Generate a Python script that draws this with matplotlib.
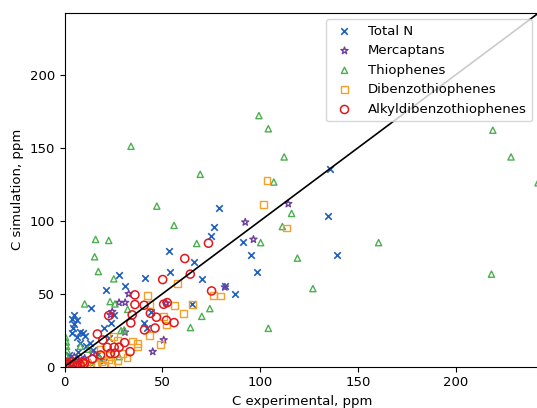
import numpy as np
import matplotlib.pyplot as plt

plt.rcParams['font.size'] = 9.5

# experimental vs simulated concentrations, ppm
total_n_exp = [135.9, 78.9, 134.5, 76.1, 74.9, 53.4, 91.2, 95.1, 139.4, 66.1, 98.1, 53.8, 27.8, 41.1, 70.1, 30.9,
               21.1, 81.9, 87.2, 13.4, 4.9, 25.3, 3.7, 23.6, 40.4, 42.2, 65.2, 44.0, 6.3, 4.9, 4.0, 9.5, 7.6, 6.3,
               10.2, 7.9, 12.8, 14.6, 6.7, 19.9, 22.5, 3.5, 11.0, 2.0, 1.0, 17.0, 3.0, 8.0]
total_n_sim = [135.4, 108.9, 103.0, 95.9, 89.2, 79.6, 85.3, 76.6, 76.6, 71.6, 64.7, 65.0, 62.9, 61.1, 60.2, 55.6,
               52.4, 55.6, 49.9, 40.5, 35.5, 35.5, 32.5, 30.2, 29.7, 26.3, 42.8, 37.3, 32.0, 29.1, 26.4, 23.3, 24.0, 20.6,
               21.1, 16.1, 16.1, 11.5, 10.3, 26.3, 19.4, 22.9, 14.0, 8.0, 4.0, 9.0, 2.0, 5.0]

merc_exp = [114.3, 92.3, 96.5, 81.9, 32.7, 27.8, 30.9, 24.3, 23.4, 30.8, 50.6, 45.0, 51.9, 4.9, 10.2, 14.2, 1.5, 7.0, 20.0]
merc_sim = [111.6, 99.0, 87.2, 54.5, 49.9, 43.9, 43.9, 37.7, 35.5, 23.6, 18.3, 10.3, 43.5, 6.9, 5.7, 9.2, 3.0, 3.0, 4.0]

thio_exp = [33.9, 99.3, 104.1, 218.9, 228.2, 242.0, 112.2, 69.3, 106.9, 47.1, 116.0, 111.3, 55.9, 100.2, 67.5, 160.5,
            15.8, 22.5, 15.3, 119.0, 17.2, 218.2, 25.1, 126.9, 10.2, 23.2, 25.7, 32.2, 74.2, 70.1, 64.3, 104.1,
            28.8, 30.4, 27.8, 0.5, 0.8, 1.0, 1.2, 0.5, 2.0, 5.0, 12.0, 18.0, 13.0, 8.0]
thio_sim = [151.0, 172.0, 163.0, 162.0, 143.7, 126.0, 143.7, 131.8, 126.5, 110.0, 105.0, 96.0, 96.8, 85.0, 84.4, 85.0,
            87.2, 86.5, 75.3, 74.4, 65.2, 63.4, 60.2, 53.5, 43.0, 44.6, 43.0, 39.3, 39.8, 34.5, 26.8, 26.3,
            24.7, 25.2, 6.9, 20.0, 17.0, 14.0, 11.0, 8.0, 5.0, 3.0, 12.0, 6.0, 3.0, 14.0]

dbt_exp = [103.4, 101.8, 113.6, 57.8, 42.2, 75.9, 79.8, 56.3, 60.8, 65.2, 43.6, 50.6, 52.0, 48.9, 43.4, 34.8, 37.4,
           37.3, 31.8, 26.9, 25.1, 18.1, 22.5, 27.1, 19.0, 16.0, 13.0, 29.5, 23.0, 20.0, 9.0, 5.0, 24.0, 11.0]
dbt_sim = [127.4, 111.0, 95.0, 57.0, 49.0, 49.0, 48.5, 41.9, 36.4, 42.8, 42.8, 34.5, 28.6, 15.3, 21.5, 17.6, 16.0,
           13.5, 6.2, 18.3, 20.6, 12.1, 4.6, 4.3, 3.4, 1.5, 1.0, 9.2, 8.0, 1.0, 1.0, 0.8, 2.0, 2.0]

adbt_exp = [73.5, 61.4, 64.2, 50.1, 75.1, 35.9, 35.9, 40.6, 50.6, 52.4, 43.8, 46.9, 34.5, 22.5, 55.9, 52.0, 33.8,
            40.8, 46.2, 16.7, 19.5, 21.7, 25.3, 27.8, 30.6, 23.4, 25.7, 18.3, 33.4, 14.1, 9.3, 6.7, 2.3, 3.5,
            8.0, 10.0, 0.5, 1.0, 5.0]
adbt_sim = [84.6, 74.1, 63.4, 59.7, 51.9, 49.2, 42.6, 42.1, 42.8, 43.9, 36.6, 33.9, 35.5, 35.0, 30.2, 31.8, 30.0,
            25.2, 26.5, 22.4, 18.3, 13.3, 13.3, 13.3, 16.5, 9.2, 9.2, 8.0, 10.3, 5.3, 3.2, 2.3, 1.8, 3.4,
            1.0, 2.0, 0.5, 2.5, 1.0]

lim = 242.5

fig = plt.figure(figsize=(5.37, 4.08), dpi=100)
ax = fig.add_axes([0.1205, 0.1012, 0.8832, 0.8677])

ax.scatter(total_n_exp, total_n_sim, marker='x', s=22, color='#1f5fbf', linewidths=1.2, label='Total N')
ax.scatter(merc_exp, merc_sim, marker='*', s=28, facecolors='none', edgecolors='#6f3f9f', linewidths=1.0, label='Mercaptans')
ax.scatter(thio_exp, thio_sim, marker='^', s=20, facecolors='none', edgecolors='#4caf50', linewidths=1.0, label='Thiophenes')
ax.scatter(dbt_exp, dbt_sim, marker='s', s=24, facecolors='none', edgecolors='#f5a02a', linewidths=1.0, label='Dibenzothiophenes')
ax.scatter(adbt_exp, adbt_sim, marker='o', s=34, facecolors='none', edgecolors='#e3161c', linewidths=1.1, label='Alkyldibenzothiophenes')

ax.plot([0, lim], [0, lim], color='black', lw=1.2)

ax.set_xlim(0, lim)
ax.set_ylim(0, lim)
ax.set_xticks([0, 50, 100, 150, 200])
ax.set_yticks([0, 50, 100, 150, 200])
ax.set_xlabel('C experimental, ppm')
ax.set_ylabel('C simulation, ppm')
ax.legend(loc='upper right')

fig.savefig('out.png', dpi=100)
